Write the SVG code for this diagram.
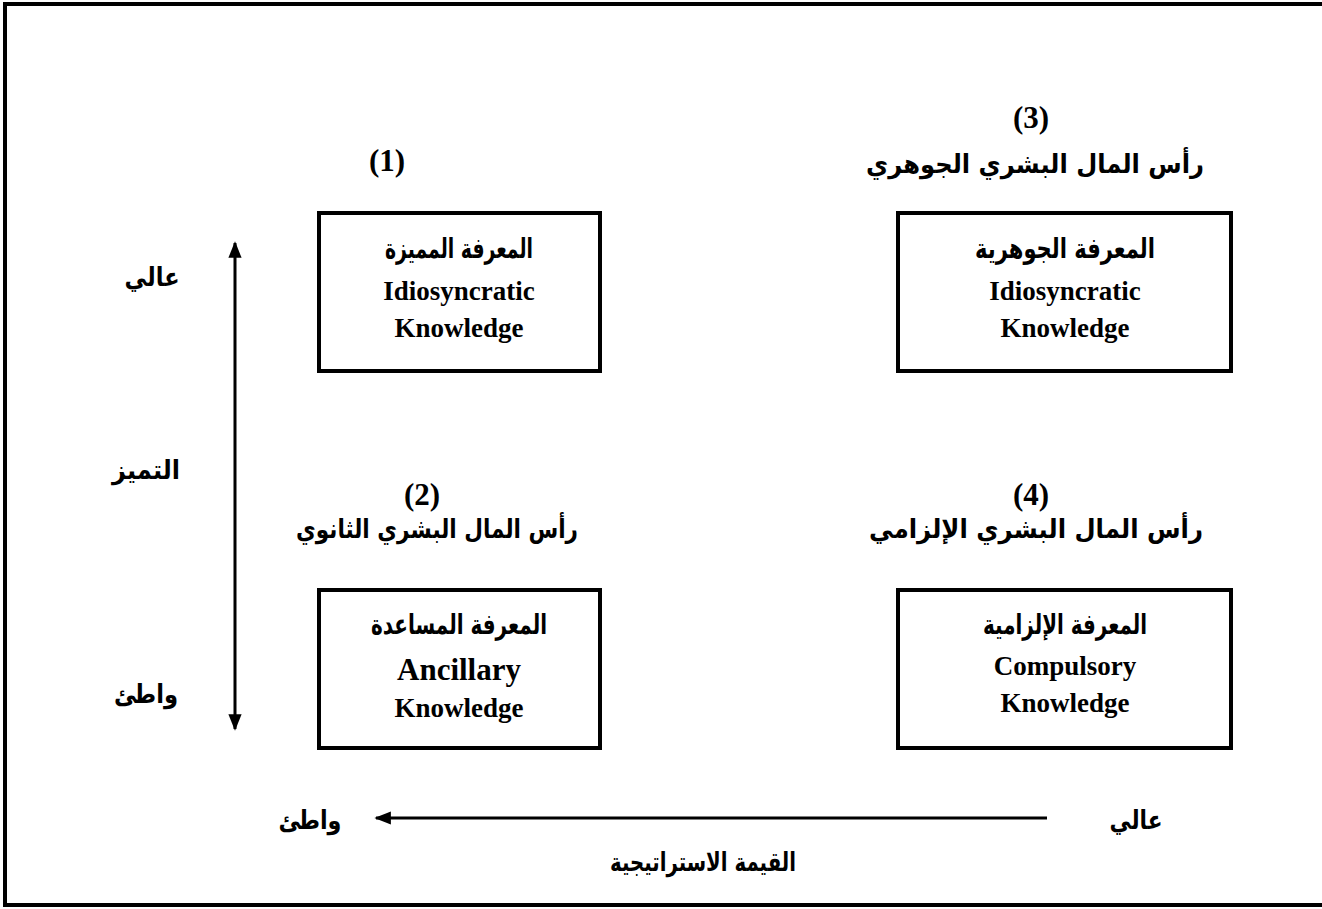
<svg xmlns="http://www.w3.org/2000/svg" width="1322" height="909" viewBox="0 0 1322 909">
  <style>
    .box { fill: #fff; stroke: #000; stroke-width: 4; }
    .frame { fill: none; stroke: #000; stroke-width: 4; }
    .ar { font-family: "DejaVu Sans", "Noto Sans", sans-serif; font-weight: bold; font-size: 26px; fill: #000; text-anchor: middle; }
    .hd { font-size: 28px; }
    .en { font-family: "Liberation Serif", "Times New Roman", serif; font-weight: bold; font-size: 27px; fill: #000; text-anchor: middle; }
    .big { font-size: 31px; }
    .num { font-family: "Liberation Serif", "Times New Roman", serif; font-weight: bold; font-size: 31px; fill: #000; text-anchor: middle; }
    .axis { stroke: #000; stroke-width: 3; fill: none; }
  </style>
  <defs>
    <marker id="head" viewBox="0 0 10 10" refX="9" refY="5" markerWidth="5.5" markerHeight="5.5" orient="auto-start-reverse" markerUnits="strokeWidth">
      <path d="M0,1 L10,5 L0,9 Z" fill="#000"/>
    </marker>
  </defs>

  <rect width="1322" height="909" fill="#fff"/>

  <!-- outer frame: top, left and bottom edges -->
  <path class="frame" d="M1322,4 L5,4 L5,905 L1322,905"/>

  <!-- quadrant 1 -->
  <g id="q1">
    <text class="num" x="387" y="171">(1)</text>
    <rect class="box" x="319" y="213" width="281" height="158"/>
    <text class="ar hd" x="459" y="258" textLength="148" lengthAdjust="spacingAndGlyphs">المعرفة المميزة</text>
    <text class="en" x="459" y="300">Idiosyncratic</text>
    <text class="en" x="459" y="337">Knowledge</text>
  </g>

  <!-- quadrant 3 -->
  <g id="q3">
    <text class="num" x="1031" y="128">(3)</text>
    <text class="ar" x="1035" y="173" textLength="338" lengthAdjust="spacingAndGlyphs">رأس المال البشري الجوهري</text>
    <rect class="box" x="898" y="213" width="333" height="158"/>
    <text class="ar hd" x="1065" y="258" textLength="180" lengthAdjust="spacingAndGlyphs">المعرفة الجوهرية</text>
    <text class="en" x="1065" y="300">Idiosyncratic</text>
    <text class="en" x="1065" y="337">Knowledge</text>
  </g>

  <!-- quadrant 2 -->
  <g id="q2">
    <text class="num" x="422" y="505">(2)</text>
    <text class="ar" x="437" y="538" textLength="282" lengthAdjust="spacingAndGlyphs">رأس المال البشري الثانوي</text>
    <rect class="box" x="319" y="590" width="281" height="158"/>
    <text class="ar hd" x="459" y="634" textLength="176" lengthAdjust="spacingAndGlyphs">المعرفة المساعدة</text>
    <text class="en big" x="459" y="680">Ancillary</text>
    <text class="en" x="459" y="717">Knowledge</text>
  </g>

  <!-- quadrant 4 -->
  <g id="q4">
    <text class="num" x="1031" y="505">(4)</text>
    <text class="ar" x="1036" y="538" textLength="334" lengthAdjust="spacingAndGlyphs">رأس المال البشري الإلزامي</text>
    <rect class="box" x="898" y="590" width="333" height="158"/>
    <text class="ar hd" x="1065" y="634" textLength="164" lengthAdjust="spacingAndGlyphs">المعرفة الإلزامية</text>
    <text class="en" x="1065" y="675">Compulsory</text>
    <text class="en" x="1065" y="712">Knowledge</text>
  </g>

  <!-- axes -->
  <g id="connectors">
    <line class="axis" x1="235" y1="243" x2="235" y2="729" marker-start="url(#head)" marker-end="url(#head)"/>
    <line class="axis" x1="1047" y1="818" x2="376" y2="818" marker-end="url(#head)"/>
  </g>

  <!-- axis labels -->
  <g id="distinctiveness-axis">
    <text class="ar" x="152" y="286" textLength="55" lengthAdjust="spacingAndGlyphs">عالي</text>
    <text class="ar" x="146" y="479" textLength="68" lengthAdjust="spacingAndGlyphs">التميز</text>
    <text class="ar" x="146" y="703" textLength="64" lengthAdjust="spacingAndGlyphs">واطئ</text>
  </g>
  <g id="value-axis">
    <text class="ar" x="310" y="829" textLength="63" lengthAdjust="spacingAndGlyphs">واطئ</text>
    <text class="ar" x="1136" y="829" textLength="53" lengthAdjust="spacingAndGlyphs">عالي</text>
    <text class="ar" x="703" y="871" textLength="186" lengthAdjust="spacingAndGlyphs">القيمة الاستراتيجية</text>
  </g>
</svg>
